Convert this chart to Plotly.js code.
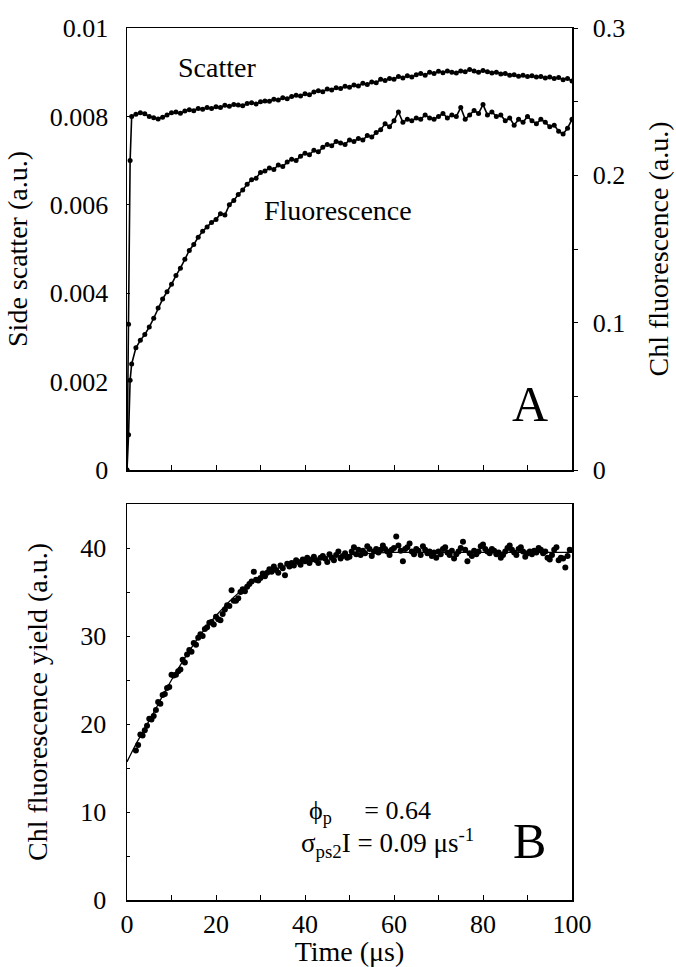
<!DOCTYPE html>
<html>
<head>
<meta charset="utf-8">
<script src="https://cdn.plot.ly/plotly-3.0.1.min.js"></script>
<style>html,body{margin:0;padding:0;background:#fff;}#chart{width:676px;height:967px;}</style>
</head>
<body>
<div id="chart"></div>
<script>
// ---- Panel A data (time in µs) ----
const timeA = [0,0.35,0.7,1.05,2,3,4,5,6,7,8,9,10,11,12,13,14,15,16,17,18,19,20,21,22,23,24,25,26,27,28,29,30,31,32,33,34,35,36,37,38,39,40,41,42,43,44,45,46,47,48,49,50,51,52,53,54,55,56,57,58,59,60,61,62,63,64,65,66,67,68,69,70,71,72,73,74,75,76,77,78,79,80,81,82,83,84,85,86,87,88,89,90,91,92,93,94,95,96,97,98,99,100];
const sideScatter = [0,0.0033,0.0070,0.0080,0.00805,0.00808,0.00806,0.00800,0.00797,0.00794,0.00798,0.00803,0.00808,0.00810,0.00807,0.00812,0.00815,0.00813,0.00818,0.00816,0.00820,0.00818,0.00822,0.00820,0.00825,0.00823,0.00827,0.00826,0.00824,0.00829,0.00831,0.00828,0.00833,0.00835,0.00834,0.00839,0.00837,0.00842,0.00840,0.00845,0.00848,0.00846,0.00851,0.00849,0.00855,0.00858,0.00856,0.00862,0.00860,0.00865,0.00863,0.00868,0.00866,0.00871,0.00869,0.00875,0.00872,0.00878,0.00876,0.00884,0.00881,0.00886,0.00884,0.00890,0.00887,0.00892,0.00889,0.00894,0.00897,0.00893,0.00900,0.00897,0.00902,0.00899,0.00903,0.00900,0.00898,0.00903,0.00901,0.00906,0.00903,0.00900,0.00904,0.00901,0.00898,0.00900,0.00896,0.00897,0.00893,0.00894,0.00891,0.00893,0.00890,0.00892,0.00889,0.00890,0.00887,0.00889,0.00886,0.00888,0.00883,0.00886,0.00880];
const chlFluor = [0,0.024,0.061,0.072,0.083,0.088,0.092,0.097,0.103,0.110,0.116,0.121,0.126,0.132,0.137,0.143,0.149,0.153,0.158,0.162,0.165,0.168,0.170,0.174,0.173,0.180,0.183,0.187,0.190,0.194,0.197,0.198,0.202,0.203,0.205,0.204,0.207,0.206,0.209,0.211,0.210,0.213,0.215,0.214,0.217,0.216,0.219,0.221,0.220,0.223,0.222,0.221,0.224,0.223,0.225,0.224,0.227,0.226,0.229,0.231,0.235,0.233,0.237,0.243,0.236,0.238,0.237,0.239,0.238,0.241,0.239,0.238,0.240,0.242,0.239,0.241,0.240,0.246,0.238,0.241,0.244,0.242,0.248,0.241,0.243,0.240,0.241,0.237,0.239,0.234,0.238,0.236,0.240,0.237,0.235,0.238,0.236,0.233,0.234,0.230,0.228,0.232,0.238];

// ---- Panel B data ----
const timeB = [2,2.5,3,3.5,4,4.5,5,5.5,6,6.5,7,7.5,8,8.5,9,9.5,10,10.5,11,11.5,12,12.5,13,13.5,14,14.5,15,15.5,16,16.5,17,17.5,18,18.5,19,19.5,20,20.5,21,21.5,22,22.5,23,23.5,24,24.5,25,25.5,26,26.5,27,27.5,28,28.5,29,29.5,30,30.5,31,31.5,32,32.5,33,33.5,34,34.5,35,35.5,36,36.5,37,37.5,38,38.5,39,39.5,40,40.5,41,41.5,42,42.5,43,43.5,44,44.5,45,45.5,46,46.5,47,47.5,48,48.5,49,49.5,50,50.5,51,51.5,52,52.5,53,53.5,54,54.5,55,55.5,56,56.5,57,57.5,58,58.5,59,59.5,60,60.5,61,61.5,62,62.5,63,63.5,64,64.5,65,65.5,66,66.5,67,67.5,68,68.5,69,69.5,70,70.5,71,71.5,72,72.5,73,73.5,74,74.5,75,75.5,76,76.5,77,77.5,78,78.5,79,79.5,80,80.5,81,81.5,82,82.5,83,83.5,84,84.5,85,85.5,86,86.5,87,87.5,88,88.5,89,89.5,90,90.5,91,91.5,92,92.5,93,93.5,94,94.5,95,95.5,96,96.5,97,97.5,98,98.5,99,99.5];
const yieldB = [17.0,17.6,18.8,18.7,19.3,19.8,20.6,20.5,20.9,21.6,22.5,22.3,23.3,23.4,24.1,24.2,25.6,25.5,25.6,26.0,26.2,27.3,27.0,27.9,28.4,28.2,29.2,29.0,29.8,30.2,30.0,30.8,31.0,31.5,31.6,31.3,32.2,31.9,31.8,32.5,33.0,33.5,33.4,35.2,34.0,34.0,34.3,35.0,35.3,35.1,35.6,35.9,36.2,37.3,36.4,36.3,36.6,37.1,36.8,37.2,37.6,37.3,37.9,37.5,37.2,38.0,37.7,36.9,38.2,37.9,38.3,38.0,38.6,38.4,38.1,38.7,38.5,38.9,38.3,38.7,39.0,38.6,38.3,38.9,39.1,38.8,38.4,39.3,38.9,38.6,39.2,39.6,38.8,39.1,39.4,38.9,39.0,39.6,40.1,39.3,39.8,39.2,39.7,39.4,40.2,39.9,39.1,39.6,39.9,39.5,39.8,40.3,39.9,39.6,39.2,39.8,40.0,41.3,40.3,39.7,38.5,39.9,40.1,40.5,39.6,39.3,39.9,39.7,39.2,40.2,39.8,39.4,39.6,39.1,39.5,38.9,39.6,39.3,39.9,40.1,39.5,39.2,39.7,38.8,39.3,39.6,40.0,40.7,39.8,38.5,39.4,39.1,39.7,39.3,39.6,40.2,40.4,39.9,39.6,39.4,39.9,39.7,39.3,39.5,38.9,39.2,39.6,40.0,40.3,39.8,39.5,39.2,39.9,40.1,39.6,39.0,39.4,39.6,39.3,39.7,39.5,40.0,39.8,39.4,39.6,38.9,38.7,39.2,39.8,40.1,38.6,38.9,38.8,37.8,39.1,39.8];
const fitTime = [0,2,4,6,8,10,12,14,16,18,20,22,24,26,28,30,32,34,36,38,40,42,44,46,48,50,55,60,65,70,75,80,85,90,95,100];
const fitYield = [15.7,17.7,19.5,21.3,23.2,25.0,26.7,28.3,29.8,31.1,32.3,33.4,34.4,35.3,36.1,36.8,37.3,37.7,38.05,38.3,38.55,38.75,38.9,39.05,39.15,39.25,39.4,39.5,39.5,39.5,39.5,39.5,39.5,39.5,39.5,39.5];

// ---- Tick labels ----
const xTickVals = [0,10,20,30,40,50,60,70,80,90,100];
const xTickText = ['0','','20','','40','','60','','80','','100'];
const sideTickVals = [0,0.002,0.004,0.006,0.008,0.01];
const sideTickText = ['0','0.002','0.004','0.006','0.008','0.01'];
const fluorTickVals = [0,0.05,0.1,0.15,0.2,0.25,0.3];
const fluorTickText = ['0','','0.1','','0.2','','0.3'];
const yieldTickVals = [0,5,10,15,20,25,30,35,40,45];
const yieldTickText = ['0','','10','','20','','30','','40',''];

const FONT = 'Liberation Serif';
const tickFont = {family: FONT, size: 26, color: '#000'};
const titleFont = {family: FONT, size: 28, color: '#000'};

const traces = [
  {x: timeA, y: sideScatter, xaxis: 'x', yaxis: 'y', type: 'scatter', mode: 'lines+markers',
   line: {color: '#000', width: 1.6}, marker: {color: '#000', size: 5}, name: 'Scatter'},
  {x: timeA, y: chlFluor, xaxis: 'x', yaxis: 'y2', type: 'scatter', mode: 'lines+markers',
   line: {color: '#000', width: 1.6}, marker: {color: '#000', size: 5}, name: 'Fluorescence'},
  {x: timeB, y: yieldB, xaxis: 'x2', yaxis: 'y3', type: 'scatter', mode: 'markers',
   marker: {color: '#000', size: 6}, name: 'Chl fluorescence yield'},
  {x: fitTime, y: fitYield, xaxis: 'x2', yaxis: 'y3', type: 'scatter', mode: 'lines',
   line: {color: '#000', width: 1.3, shape: 'spline'}, name: 'Fit'}
];

const axisCommon = {showgrid: false, zeroline: false, linecolor: '#000', linewidth: 1.5,
  tickcolor: '#000', tickfont: tickFont, showline: true};

const layout = {
  width: 676, height: 967,
  margin: {l: 127, r: 104, t: 28, b: 67},
  paper_bgcolor: '#fff', plot_bgcolor: '#fff',
  showlegend: false,
  font: {family: FONT, color: '#000'},
  xaxis: Object.assign({}, axisCommon, {domain: [0, 1], anchor: 'y', range: [0, 100],
    tickmode: 'array', tickvals: xTickVals, ticks: 'inside', ticklen: 5,
    showticklabels: false, mirror: true}),
  yaxis: Object.assign({}, axisCommon, {domain: [0.4931, 1], anchor: 'x', range: [0, 0.01],
    tickmode: 'array', tickvals: sideTickVals, ticktext: sideTickText, ticks: 'inside', ticklen: 3,
    ticklabelstandoff: 12,
    title: {text: 'Side scatter (a.u.)', font: titleFont, standoff: 14}}),
  yaxis2: Object.assign({}, axisCommon, {overlaying: 'y', side: 'right', anchor: 'x', range: [0, 0.3],
    tickmode: 'array', tickvals: fluorTickVals, ticktext: fluorTickText, ticks: 'outside', ticklen: 4,
    ticklabelstandoff: 10,
    title: {text: 'Chl fluorescence (a.u.)', font: titleFont, standoff: 24}}),
  xaxis2: Object.assign({}, axisCommon, {domain: [0, 1], anchor: 'y3', range: [0, 100],
    tickmode: 'array', tickvals: xTickVals, ticktext: xTickText, ticks: 'inside', ticklen: 5,
    ticklabelstandoff: 0, mirror: true,
    title: {text: 'Time (μs)', font: titleFont, standoff: 2}}),
  yaxis3: Object.assign({}, axisCommon, {domain: [0, 0.4541], anchor: 'x2', range: [0, 45],
    tickmode: 'array', tickvals: yieldTickVals, ticktext: yieldTickText, ticks: 'inside', ticklen: 3,
    ticklabelstandoff: 14, mirror: true,
    title: {text: 'Chl fluorescence yield (a.u.)', font: titleFont, standoff: 24}}),
  annotations: [
    {xref: 'x', yref: 'y', x: 20.2, y: 0.0091, text: 'Scatter', showarrow: false,
     font: {family: FONT, size: 28, color: '#000'}},
    {xref: 'x', yref: 'y', x: 47.4, y: 0.00588, text: 'Fluorescence', showarrow: false,
     font: {family: FONT, size: 28, color: '#000'}},
    {xref: 'x', yref: 'y', x: 90.6, y: 0.00149, text: 'A', showarrow: false,
     font: {family: FONT, size: 50, color: '#000'}},
    {xref: 'x2', yref: 'y3', x: 90.4, y: 6.7, text: 'B', showarrow: false,
     font: {family: FONT, size: 50, color: '#000'}},
    {xref: 'x2', yref: 'y3', x: 40.5, y: 10.0, xanchor: 'left',
     text: 'ϕ<sub>p</sub>&nbsp;&nbsp;&nbsp;&nbsp;&nbsp;= 0.64', showarrow: false,
     font: {family: FONT, size: 26, color: '#000'}},
    {xref: 'x2', yref: 'y3', x: 38.6, y: 6.5, xanchor: 'left',
     text: 'σ<sub>ps2</sub>I = 0.09 μs<sup>-1</sup>', showarrow: false,
     font: {family: FONT, size: 27, color: '#000'}}
  ]
};

Plotly.newPlot('chart', traces, layout, {staticPlot: true, displayModeBar: false});
</script>
</body>
</html>
